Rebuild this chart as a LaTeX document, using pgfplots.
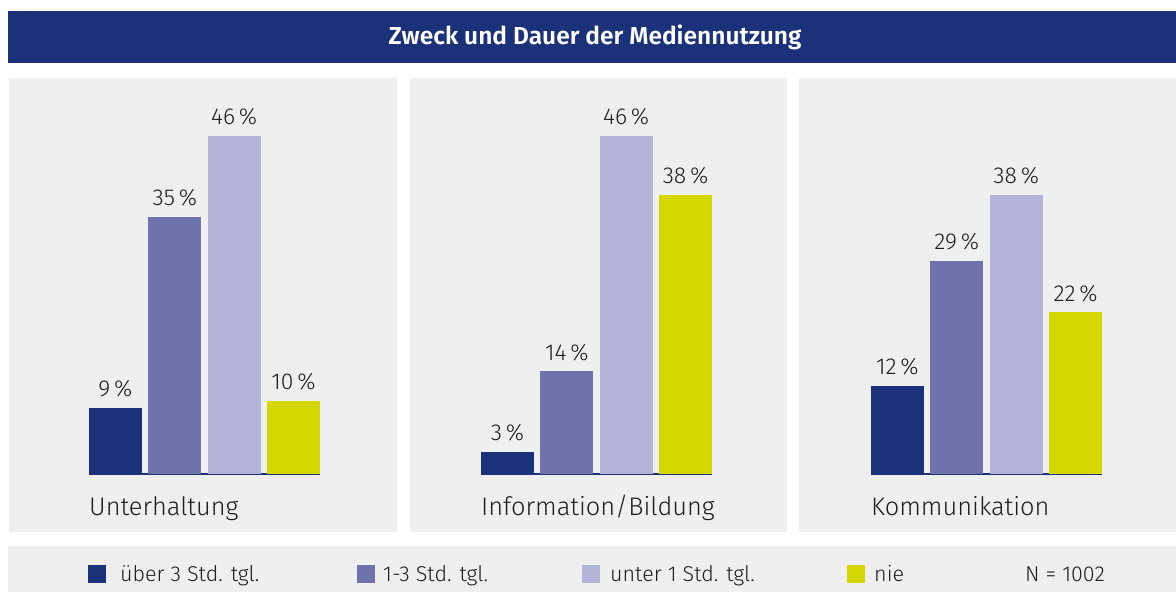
\documentclass[border=0pt]{standalone}
\usepackage{pgfplots}
\pgfplotsset{compat=1.18}
\usepackage{fontspec}
\setmainfont{Fira Sans Light}[BoldFont={Fira Sans SemiBold}]
\definecolor{c1}{HTML}{1B317A}
\definecolor{c2}{HTML}{6E74AB}
\definecolor{c3}{HTML}{B3B4D7}
\definecolor{c4}{HTML}{D4D800}
\definecolor{bg}{HTML}{EFEFEF}
\definecolor{txt}{HTML}{1E1E1E}
\pgfplotsset{
 panel/.style={
  scale only axis, width=231pt, height=338pt,
  xmin=-0.4454, xmax=3.4454, ymin=0, ymax=46,
  axis y line=none, axis x line*=bottom,
  x axis line style={c1, line width=2pt, -},
  xtick=\empty, ytick=\empty, clip=false, anchor=south west,
  every axis plot/.append style={ybar, bar shift=0pt, bar width=53pt, draw=none,
   nodes near coords={\pgfmathprintnumber[assume math mode=true]{\pgfplotspointmeta}\,\%},
   every node near coord/.append style={font=\fontsize{23}{27}\selectfont, text=txt, yshift=7pt}},
 },
}
\begin{document}
\begin{tikzpicture}[x=1pt,y=1pt]
\fill[white] (0,0) rectangle (1176,592);
% title bar
\fill[c1] (8,529) rectangle (1176,581);
\node[text=white, font=\bfseries\fontsize{24.5}{28}\selectfont] at (595,555) {Zweck und Dauer der Mediennutzung};
% panels
\fill[bg] (9,60) rectangle (397,514);
\fill[bg] (410,60) rectangle (787,514);
\fill[bg] (799,60) rectangle (1176,514);
% legend band
\fill[bg] (8,0) rectangle (1176,46);

\begin{axis}[panel, at={(89pt,118pt)}]
\addplot[fill=c1] coordinates {(0,9)};
\addplot[fill=c2] coordinates {(1,35)};
\addplot[fill=c3] coordinates {(2,46)};
\addplot[fill=c4] coordinates {(3,10)};
\end{axis}
\begin{axis}[panel, at={(481pt,118pt)}]
\addplot[fill=c1] coordinates {(0,3)};
\addplot[fill=c2] coordinates {(1,14)};
\addplot[fill=c3] coordinates {(2,46)};
\addplot[fill=c4] coordinates {(3,38)};
\end{axis}
\begin{axis}[panel, at={(871pt,118pt)}]
\addplot[fill=c1] coordinates {(0,12)};
\addplot[fill=c2] coordinates {(1,29)};
\addplot[fill=c3] coordinates {(2,38)};
\addplot[fill=c4] coordinates {(3,22)};
\end{axis}

% category labels
\begin{scope}[every node/.style={anchor=base west, inner sep=0pt, text=txt, font=\fontsize{25.4}{29}\selectfont}]
\node at (89,76) {Unterhaltung};
\node at (481,76) {Information/Bildung};
\node at (871,76) {Kommunikation};
\end{scope}

% legend
\begin{scope}[every node/.style={anchor=base west, inner sep=0pt, text=txt, font=\fontsize{21.5}{25}\selectfont}]
\fill[c1] (88,9) rectangle (106,27);
\node at (120,10) {über 3 Std. tgl.};
\fill[c2] (357,9) rectangle (375,27);
\node at (383,10) {1-3 Std. tgl.};
\fill[c3] (582,9) rectangle (600,27);
\node at (610,10) {unter 1 Std. tgl.};
\fill[c4] (847,9) rectangle (865,27);
\node at (874,10) {nie};
\node at (1025,10) {N = 1002};
\end{scope}
\end{tikzpicture}
\end{document}
